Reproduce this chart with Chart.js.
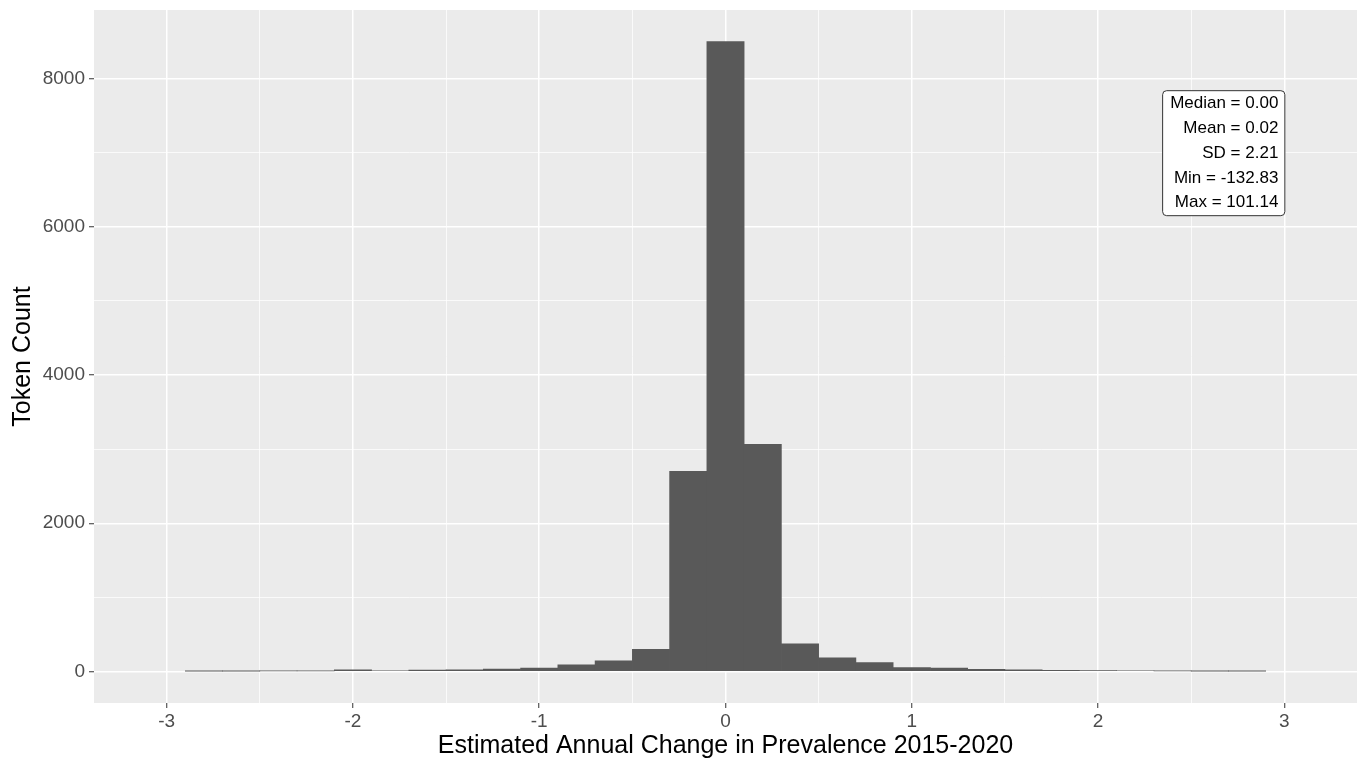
<!DOCTYPE html>
<html>
<head>
<meta charset="utf-8">
<title>Estimated Annual Change in Prevalence</title>
<script src="https://cdn.jsdelivr.net/npm/chart.js@4.4.1/dist/chart.umd.min.js"></script>
<style>
  html, body { margin: 0; padding: 0; background: #fff; }
  #wrap { width: 1359px; height: 759px; }
</style>
</head>
<body>
<div id="wrap"><canvas id="hist" width="1359" height="759"></canvas></div>
<script>
// bin centres (width 0.2) and counts
const binCenters = [-2.8, -2.6, -2.4, -2.2, -2.0, -1.8, -1.6, -1.4, -1.2, -1.0,
  -0.8, -0.6, -0.4, -0.2, 0.0, 0.2, 0.4, 0.6, 0.8, 1.0,
  1.2, 1.4, 1.6, 1.8, 2.0, 2.2, 2.4, 2.6, 2.8];
const tokenCounts = [3, 4, 8, 9, 22, 10, 20, 22, 33, 45,
  90, 145, 300, 2700, 8500, 3065, 375, 185, 120, 52,
  47, 30, 24, 15, 14, 10, 7, 4, 6];

const xTicks = [-3, -2.5, -2, -1.5, -1, -0.5, 0, 0.5, 1, 1.5, 2, 2.5, 3];
const yTicks = [0, 1000, 2000, 3000, 4000, 5000, 6000, 7000, 8000];

const statsLabels = ['Median = 0.00', 'Mean = 0.02', 'SD = 2.21', 'Min = -132.83', 'Max = 101.14'];
const statsAnchor = { x: 3, y: 7000 };

const FONT = '"Liberation Sans", Arial, sans-serif';

const isMajorX = v => Number.isInteger(v);
const isMajorY = v => v % 2000 === 0;

// grey panel behind the plot, like ggplot theme_grey
const panelBg = {
  id: 'panelBg',
  beforeDraw(chart) {
    const { ctx, chartArea: a } = chart;
    ctx.save();
    ctx.fillStyle = '#EBEBEB';
    ctx.fillRect(a.left, a.top, a.right - a.left, a.bottom - a.top);
    ctx.restore();
  }
};

// summary label box (annotate "label", hjust = 1)
const statsBox = {
  id: 'statsBox',
  afterDatasetsDraw(chart) {
    const { ctx, scales } = chart;
    const right = scales.x.getPixelForValue(statsAnchor.x);
    const cy = scales.y.getPixelForValue(statsAnchor.y);
    const lineH = 24.8;
    ctx.save();
    ctx.font = '17px ' + FONT;
    const w = Math.max(...statsLabels.map(s => ctx.measureText(s).width)) + 14;
    const h = lineH * statsLabels.length + 1;
    const left = right - w, top = cy - h / 2;
    ctx.beginPath();
    ctx.roundRect(left + 0.5, top + 0.5, w, h, 4);
    ctx.fillStyle = '#ffffff';
    ctx.fill();
    ctx.strokeStyle = '#333333';
    ctx.lineWidth = 1;
    ctx.stroke();
    ctx.fillStyle = '#000000';
    ctx.textAlign = 'right';
    ctx.textBaseline = 'middle';
    statsLabels.forEach((s, i) => {
      ctx.fillText(s, right - 6, top + lineH * (i + 0.5) + 1);
    });
    ctx.restore();
  }
};

const ctx = document.getElementById('hist').getContext('2d');
new Chart(ctx, {
  type: 'bar',
  data: {
    datasets: [{
      label: 'Token Count',
      data: binCenters.map((c, i) => ({ x: c, y: tokenCounts[i] })),
      backgroundColor: '#595959',
      borderWidth: 0,
      barPercentage: 1,
      categoryPercentage: 1,
      grouped: false
    }]
  },
  options: {
    responsive: false,
    animation: false,
    layout: { padding: { top: 10, right: 2, left: 0, bottom: 0 } },
    plugins: {
      legend: { display: false },
      tooltip: { enabled: false }
    },
    scales: {
      x: {
        type: 'linear',
        min: -3.39,
        max: 3.39,
        offset: false,
        afterBuildTicks: s => { s.ticks = xTicks.map(v => ({ value: v })); },
        afterFit: s => { s.height = 56; },
        border: { display: false },
        grid: {
          offset: false,
          color: '#ffffff',
          lineWidth: c => (c.tick && isMajorX(c.tick.value) ? 1.5 : 0.75),
          tickColor: c => (c.tick && isMajorX(c.tick.value) ? '#333333' : 'rgba(0,0,0,0)'),
          tickLength: 5,
          tickWidth: 1
        },
        ticks: {
          autoSkip: false,
          maxRotation: 0,
          padding: 2,
          color: '#4D4D4D',
          font: { family: FONT, size: 19 },
          callback: v => (isMajorX(v) ? String(v) : '')
        },
        title: {
          display: true,
          text: 'Estimated Annual Change in Prevalence 2015-2020',
          color: '#000000',
          font: { family: FONT, size: 25 },
          padding: { top: 0, bottom: -2 }
        }
      },
      y: {
        min: -425,
        max: 8925,
        afterBuildTicks: s => { s.ticks = yTicks.map(v => ({ value: v })); },
        afterFit: s => { s.width = 94; s.paddingTop = 0; s.paddingBottom = 0; },
        border: { display: false },
        grid: {
          color: '#ffffff',
          lineWidth: c => (c.tick && isMajorY(c.tick.value) ? 1.5 : 0.75),
          tickColor: c => (c.tick && isMajorY(c.tick.value) ? '#333333' : 'rgba(0,0,0,0)'),
          tickLength: 5,
          tickWidth: 1
        },
        ticks: {
          autoSkip: false,
          padding: 4,
          color: '#4D4D4D',
          font: { family: FONT, size: 19 },
          callback: v => (isMajorY(v) ? String(v) : '')
        },
        title: {
          display: true,
          text: 'Token Count',
          color: '#000000',
          font: { family: FONT, size: 25 },
          padding: { top: 8, bottom: 0 }
        }
      }
    }
  },
  plugins: [panelBg, statsBox]
});
</script>
</body>
</html>
